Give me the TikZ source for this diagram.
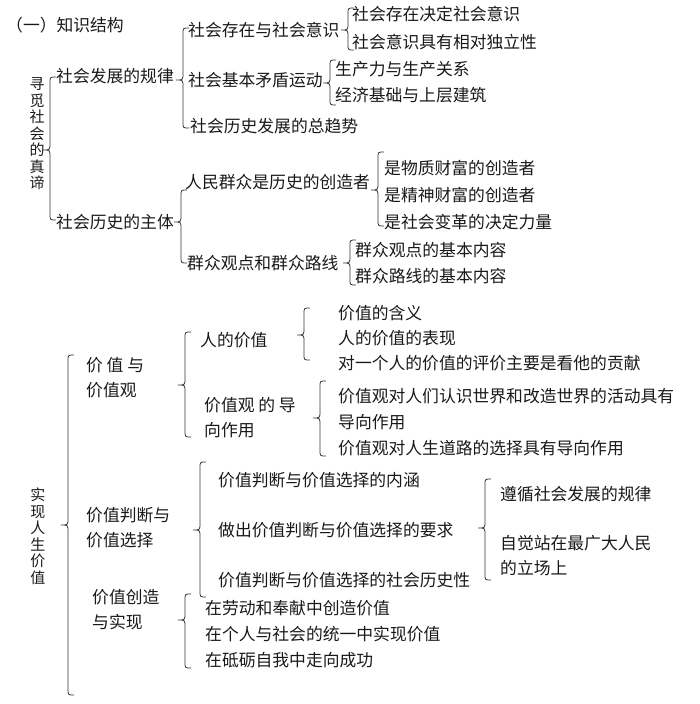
\documentclass[tikz,border=0pt]{standalone}
\usepackage{fontspec}
\setmainfont{Noto Sans CJK SC}
\usetikzlibrary{positioning}
\tikzset{
  txt/.style={anchor=west,inner sep=0pt,font=\fontsize{16.8}{17}\selectfont,text=black!90},
  txtb/.style={txt,font=\fontsize{16.8}{25}\selectfont,align=left},
  vtxt/.style={inner sep=0pt,align=center,font=\fontsize{15}{16.5}\selectfont,text=black!90},
  brace/.style={draw=black!80,line width=0.8pt}
}
% left curly brace: x, top, tip, bottom
\newcommand{\kbrace}[4]{%
  \draw[brace] (#1+6,#2) .. controls (#1,#2) .. (#1,#2+6) -- (#1,#3-7)
    .. controls (#1,#3) .. (#1-7,#3) .. controls (#1,#3) .. (#1,#3+7)
    -- (#1,#4-6) .. controls (#1,#4) .. (#1+6,#4);}
\begin{document}
\begin{tikzpicture}[x=1pt,y=-1pt]
\useasboundingbox (0,0) rectangle (700,704);
% upper part
\node[txt] (title) at (6,25) {（一）知识结构};
\node[vtxt] (root1) at (37,134) {寻\\觅\\社\\会\\的\\真\\谛};
\kbrace{50}{77}{150}{220}
\node[txt] (law) at (56,76) {社会发展的规律};
\node[txt] (subj) at (56,222) {社会历史的主体};
\kbrace{183}{28}{80}{128}
\node[txt] (exist) at (188,30) {社会存在与社会意识};
\node[txt] (basic) at (188,80) {社会基本矛盾运动};
\node[txt] (trend) at (190,126) {社会历史发展的总趋势};
\kbrace{348}{8}{30}{50}
\node[txt] (e1) at (352,14) {社会存在决定社会意识};
\node[txt] (e2) at (352,42) {社会意识具有相对独立性};
\kbrace{330}{60}{83}{105}
\node[txt] (b1) at (335,69) {生产力与生产关系};
\node[txt] (b2) at (335,95) {经济基础与上层建筑};
\kbrace{181}{190}{222}{263}
\node[txt] (people) at (185,182) {人民群众是历史的创造者};
\node[txt] (mass) at (187,263) {群众观点和群众路线};
\kbrace{378}{152}{190}{226}
\node[txt] (p1) at (384,168) {是物质财富的创造者};
\node[txt] (p2) at (384,195) {是精神财富的创造者};
\node[txt] (p3) at (384,222) {是社会变革的决定力量};
\kbrace{350}{240}{263}{285}
\node[txt] (m1) at (355,250) {群众观点的基本内容};
\node[txt] (m2) at (355,276) {群众路线的基本内容};
% lower part
\node[vtxt] (root2) at (38,536) {实\\现\\人\\生\\价\\值};
\kbrace{68}{355}{525}{695}
\node[txtb] (val) at (86,378) {价 值 与\\价值观};
\kbrace{185}{332}{385}{437}
\node[txt] (pv) at (200,340) {人的价值};
\node[txtb] (guide) at (204,418) {价值观 的 导\\向作用};
\kbrace{304}{308}{335}{360}
\node[txt] (pv1) at (338,313) {价值的含义};
\node[txt] (pv2) at (338,338) {人的价值的表现};
\node[txt] (pv3) at (338,363) {对一个人的价值的评价主要是看他的贡献};
\kbrace{320}{381}{418}{456}
\node[txt] (g1) at (338,396) {价值观对人们认识世界和改造世界的活动具有};
\node[txt] (g2) at (338,422) {导向作用};
\node[txt] (g3) at (338,448) {价值观对人生道路的选择具有导向作用};
\node[txtb] (judge) at (86,528) {价值判断与\\价值选择};
\kbrace{200}{462}{530}{597}
\node[txt] (j1) at (218,480) {价值判断与价值选择的内涵};
\node[txt] (j2) at (218,530) {做出价值判断与价值选择的要求};
\node[txt] (j3) at (218,580) {价值判断与价值选择的社会历史性};
\kbrace{485}{479}{528}{580}
\node[txt] (r1) at (500,494) {遵循社会发展的规律};
\node[txtb] (r2) at (500,556) {自觉站在最广大人民\\的立场上};
\node[txtb] (create) at (92,610) {价值创造\\与实现};
\kbrace{185}{594}{620}{668}
\node[txt] (c1) at (205,608) {在劳动和奉献中创造价值};
\node[txt] (c2) at (205,634) {在个人与社会的统一中实现价值};
\node[txt] (c3) at (205,660) {在砥砺自我中走向成功};
\end{tikzpicture}
\end{document}
